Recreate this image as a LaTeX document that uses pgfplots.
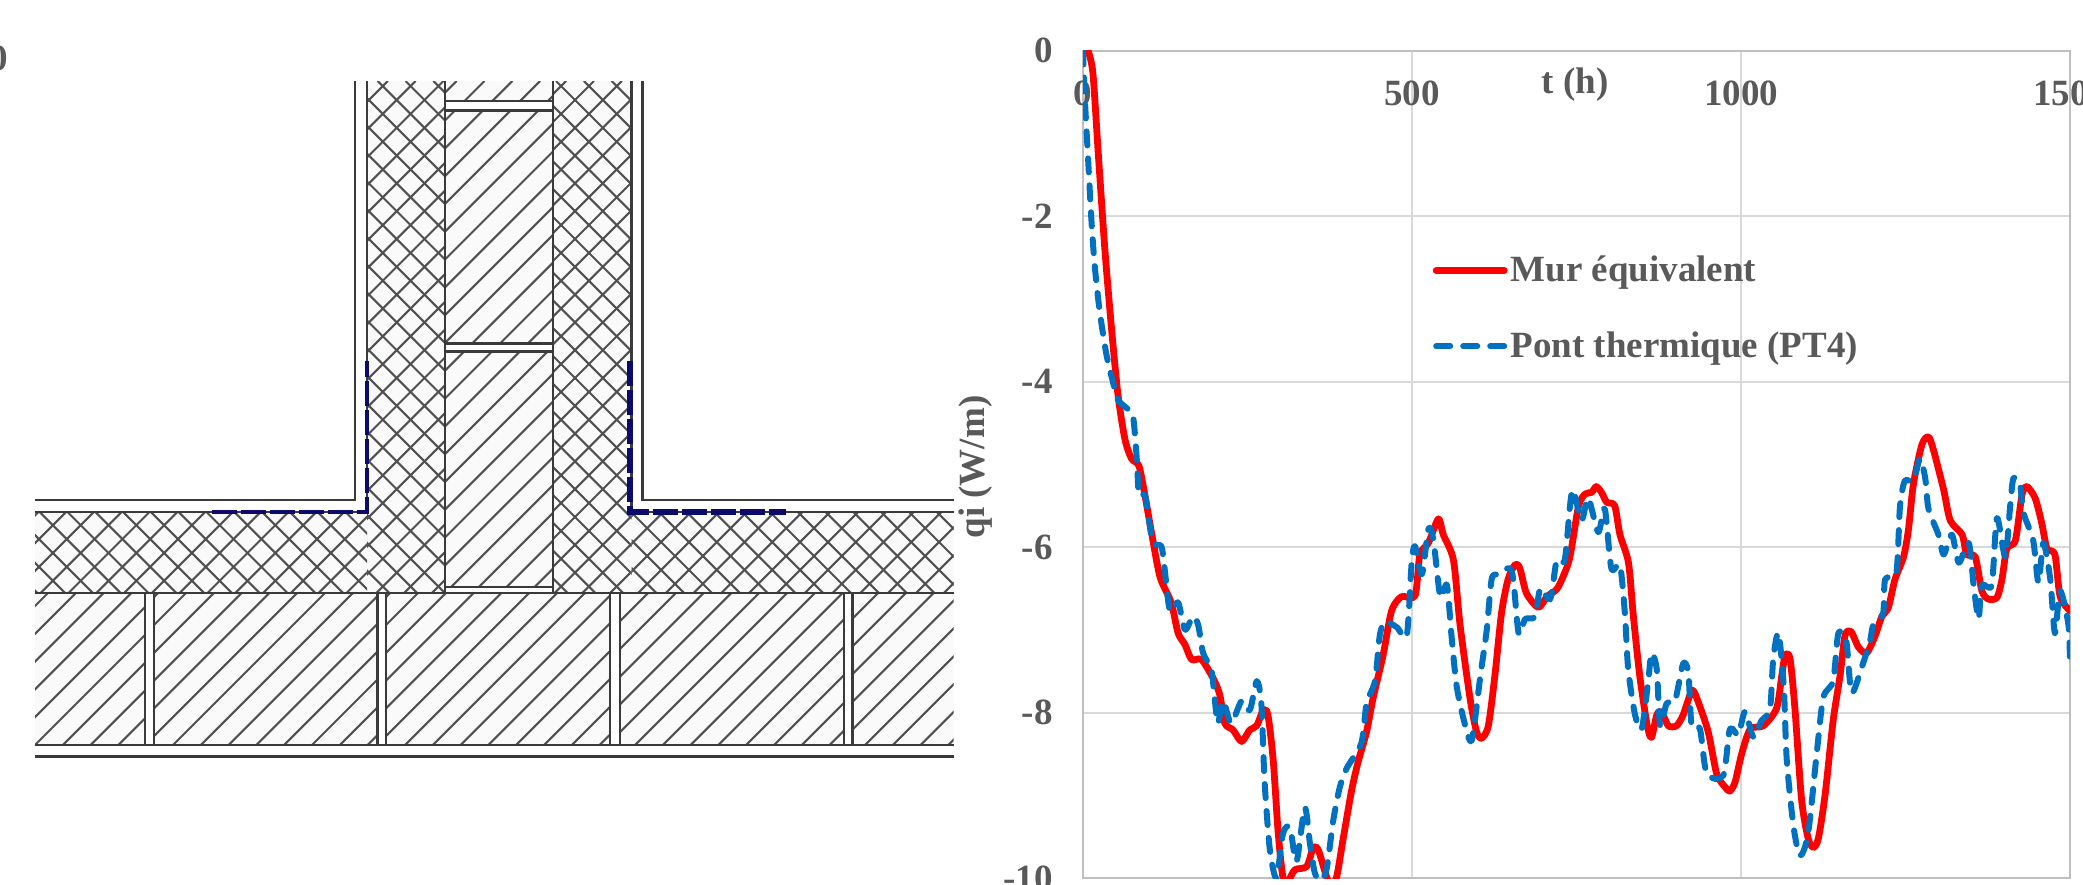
\documentclass[border=0pt]{standalone}
\usepackage{pgfplots}
\pgfplotsset{compat=1.18}
\usepackage{fontspec}
\setmainfont{Liberation Serif}
\definecolor{tickgrey}{HTML}{595959}
\definecolor{gridgrey}{HTML}{D9D9D9}
\definecolor{axisgrey}{HTML}{BFBFBF}
\definecolor{murred}{HTML}{FF0000}
\definecolor{ptblue}{HTML}{0070C0}
\definecolor{navyline}{HTML}{0B0B6B}
\definecolor{ink}{HTML}{3A3A3A}
\definecolor{hatchink}{HTML}{505050}
\definecolor{paper}{HTML}{FAFAFA}
\newcommand\chartfont{\fontsize{18.5}{20}\selectfont\bfseries}
% single hatch: x1,y1,x2,y2,phase
\newcommand\hatchS[5]{%
  \begin{scope}
    \fill[paper] (#1,#2) rectangle (#3,#4);
    \clip (#1,#2) rectangle (#3,#4);
    \foreach \k in {-40,...,40}{%
      \pgfmathsetmacro\s{#5+27.8*\k}%
      \draw[hatchink,line width=1.05pt] ({\s-#4},#4) -- ({\s-#2},#2);
    }
  \end{scope}}
% cross hatch: x1,y1,x2,y2,phase s,phase d
\newcommand\hatchX[6]{%
  \begin{scope}
    \fill[paper] (#1,#2) rectangle (#3,#4);
    \clip (#1,#2) rectangle (#3,#4);
    \foreach \k in {-40,...,40}{%
      \pgfmathsetmacro\s{#5+27.8*\k}%
      \pgfmathsetmacro\d{#6+27.8*\k}%
      \draw[hatchink,line width=1.05pt] ({\s-#4},#4) -- ({\s-#2},#2);
      \draw[hatchink,line width=1.05pt] ({#2-\d},#2) -- ({#4-\d},#4);
    }
  \end{scope}}
\begin{document}
\begin{tikzpicture}
\path[use as bounding box, clip] (0,0) rectangle (1041.5pt,-442pt);
\begin{scope}[x=0.5pt,y=-0.5pt]
  % insulation
  \hatchX{367}{81}{445}{593}{496.7}{-296.7}
  \hatchX{553}{81}{631.7}{593}{675}{-475}
  \hatchX{35}{512}{367}{593}{633.7}{472.3}
  \hatchX{631.7}{512}{953.5}{593}{675}{-119}
  % central block
  \hatchS{445}{81}{553}{593}{676.7}
  \fill[white] (445,101) rectangle (553,110.7);
  \fill[white] (445,343.3) rectangle (553,351.7);
  \fill[white] (445,587) rectangle (553,593);
  % lower layer
  \hatchS{35}{593}{145}{745}{780}
  \hatchS{154}{593}{377.5}{745}{918}
  \hatchS{386}{593}{610}{745}{1150}
  \hatchS{620}{593}{844}{745}{1380}
  \hatchS{852.7}{593}{953.5}{745}{1610}
  \draw[ink,line width=1.25pt]
    (355,81) -- (355,500) -- (35,500)
    (367,81) -- (367,512) -- (35,512)
    (445,81) -- (445,593)
    (553,81) -- (553,593)
    (631.7,81) -- (631.7,512) -- (953.5,512)
    (642.7,81) -- (642.7,500) -- (953.5,500)
    (445,101) -- (553,101) (445,110.7) -- (553,110.7)
    (445,343.3) -- (553,343.3) (445,351.7) -- (553,351.7)
    (445,587) -- (553,587)
    (35,593) -- (953.5,593)
    (35,745) -- (953.5,745)
    (35,756.7) -- (953.5,756.7)
    (145,593) -- (145,745) (154,593) -- (154,745)
    (377.5,593) -- (377.5,745) (386,593) -- (386,745)
    (610,593) -- (610,745) (620,593) -- (620,745)
    (844,593) -- (844,745) (852.7,593) -- (852.7,745);
  \draw[navyline,line width=2.4pt,dash pattern=on 12.5pt off 2pt]
    (212,512) -- (367,512) -- (367,361);
  \draw[navyline,line width=3pt,dash pattern=on 12.5pt off 2pt]
    (630,361) -- (630,512) -- (786,512);
  \node[text=tickgrey,font=\chartfont,anchor=east,inner sep=0pt] at (8,58) {0};
\end{scope}
\begin{axis}[
  at={(541.5pt,-439pt)}, anchor=south west,
  scale only axis, width=493.5pt, height=413.75pt,
  xmin=0, xmax=1500, ymin=-10, ymax=0,
  xtick={0,500,1000,1500}, ytick={0,-2,-4,-6,-8,-10},
  grid=major, major grid style={gridgrey,line width=1pt},
  axis line style={axisgrey,line width=1pt},
  tick style={draw=none},
  xticklabel pos=upper,
  /pgf/number format/assume math mode=true,
  /pgf/number format/1000 sep={},
  xticklabel style={font=\chartfont,text=tickgrey,anchor=center,yshift=-21.5pt,inner sep=0pt},
  yticklabel style={font=\chartfont,text=tickgrey,anchor=east,xshift=-15pt,inner sep=0pt},
  legend style={at={(171.7pt,316pt)},anchor=north west,draw=none,fill=none,
    font=\chartfont,text=tickgrey,row sep=23.5pt,
    nodes={inner sep=0pt}, /tikz/column sep=1.5pt},
  legend cell align=left,
  legend image code/.code={\draw[#1] (0pt,0pt) -- (34pt,0pt);},
  clip=true,
]
\addplot[murred,line width=3.4pt,line cap=round,line join=round,smooth,tension=0.45] coordinates {
(7.6,0)(15,-0.27)(23,-1.22)(33,-2.38)(43,-3.33)(53,-4.15)(63.5,-4.69)(73.5,-4.93)(85,-5.02)
(94,-5.37)(104,-5.82)(117,-6.36)(134,-6.67)(144.5,-7.04)(155,-7.18)(165,-7.36)(180,-7.36)
(198,-7.59)(208,-7.79)(215.5,-8.13)(228,-8.21)(241,-8.35)(253.5,-8.21)(264,-8.16)(274,-7.97)
(281,-8.03)(289,-8.57)(296.7,-9.46)(304,-10)(312,-10.03)(322,-9.9)(340,-9.86)(350,-9.63)
(357.5,-9.66)(368,-9.93)(375,-10.07)(385,-10)(395.5,-9.52)(408,-8.95)(418,-8.6)(431,-8.23)
(441,-7.82)(456,-7.31)(469,-6.77)(484,-6.6)(504.5,-6.59)(512,-6.09)(525,-5.95)(540,-5.66)
(547.5,-5.85)(563,-6.16)(573,-6.94)(588,-7.82)(598,-8.23)(606,-8.31)(616,-8.16)(626,-7.55)
(636,-6.8)(646,-6.39)(657,-6.21)(664,-6.26)(674,-6.56)(692,-6.73)(705,-6.6)(720,-6.51)
(730,-6.35)(740,-6.12)(753,-5.51)(763,-5.36)(773,-5.34)(780,-5.27)(788,-5.34)(796,-5.46)
(808,-5.5)(816,-5.85)(829,-6.19)(836,-6.8)(846,-7.55)(857.5,-8.16)(864,-8.3)(872,-8.03)
(879,-7.99)(889.5,-8.16)(902,-8.16)(912,-8.03)(925,-7.74)(932.5,-7.82)(950,-8.23)(963,-8.74)
(975.7,-8.9)(983,-8.95)(991,-8.84)(1001,-8.5)(1014,-8.2)(1034,-8.16)(1054,-7.95)(1062,-7.55)
(1067,-7.31)(1074.5,-7.35)(1082,-7.96)(1092,-9.05)(1102,-9.52)(1110,-9.63)(1117.6,-9.52)
(1128,-8.98)(1140,-8.1)(1150.6,-7.55)(1158,-7.07)(1167,-7.02)(1178.5,-7.21)(1191,-7.28)
(1204,-7.07)(1214,-6.84)(1224,-6.73)(1234,-6.39)(1247,-6.12)(1254.6,-5.78)(1262,-5.24)
(1275,-4.76)(1285,-4.67)(1292.6,-4.83)(1308,-5.31)(1318,-5.68)(1336,-5.85)(1343,-6.09)
(1356,-6.12)(1366,-6.53)(1376,-6.63)(1389,-6.61)(1396.6,-6.39)(1404,-6.02)(1417,-5.92)
(1427,-5.37)(1434.6,-5.27)(1447,-5.41)(1457,-5.71)(1465,-6.02)(1477,-6.09)(1485,-6.6)(1500,-6.77)
};
\addlegendentry{Mur équivalent}
\addplot[ptblue,line width=3pt,line cap=round,line join=round,dash pattern=on 7pt off 6.5pt,smooth,tension=0.45] coordinates {
(0,0)(2.5,-0.54)(7.6,-1.29)(12.7,-2.04)(17.7,-2.59)(25,-3.13)(35.5,-3.67)(45.6,-4.01)(53,-4.22)
(66,-4.32)(76,-4.42)(82,-4.97)(85,-5.37)(94,-5.37)(99,-5.61)(106.5,-5.95)(119,-5.99)(124,-6.26)
(132,-6.77)(144.5,-6.67)(155,-7.0)(167,-6.84)(175,-6.94)(182.5,-7.28)(195,-7.48)(200,-7.82)
(205,-8.13)(213,-7.86)(225,-8.13)(241,-7.86)(253.5,-7.97)(264,-7.62)(271,-7.89)(276,-8.84)
(284,-9.66)(294,-10)(304,-9.46)(314.5,-9.39)(324.5,-9.8)(337,-9.15)(345,-9.59)(352,-9.93)
(360,-10.03)(370,-9.9)(380,-9.32)(390,-8.91)(401,-8.67)(423,-8.37)(431,-7.89)(443.7,-7.62)
(451,-7.07)(459,-6.9)(477,-6.97)(492,-7.07)(499.5,-6.19)(504.5,-5.99)(515,-6.33)(525,-5.78)
(532.6,-5.92)(543,-6.6)(553,-6.46)(560,-7.07)(568,-7.69)(581,-8.16)(591,-8.33)(604,-7.55)
(613.6,-7.0)(621,-6.39)(631,-6.33)(651.5,-6.29)(662,-7.04)(672,-6.87)(687,-6.84)(695,-6.5)
(710,-6.63)(720,-6.16)(732,-6.16)(740,-5.51)(745,-5.31)(757.6,-5.68)(767.8,-5.41)(783,-5.82)
(793,-5.54)(803,-6.26)(816,-6.22)(823.5,-6.8)(828.6,-7.48)(839,-8.03)(849,-8.2)(859,-7.62)
(864,-7.28)(872,-7.48)(877,-8.16)(887,-7.89)(899.6,-7.86)(912,-7.41)(920,-7.52)(925,-8.16)
(937.6,-8.2)(948,-8.74)(973,-8.76)(983,-8.2)(996,-8.27)(1006,-7.99)(1019,-8.3)(1031,-8.1)
(1044,-7.96)(1049,-7.35)(1057,-7.04)(1065,-7.69)(1069.5,-8.57)(1080,-9.39)(1090,-9.73)
(1102,-9.46)(1115,-8.5)(1125,-7.82)(1140,-7.62)(1148,-7.04)(1160,-7.14)(1168,-7.76)
(1183.6,-7.45)(1196,-7.14)(1201,-6.94)(1216,-6.8)(1219,-6.39)(1236,-6.31)(1241.6,-5.51)
(1249,-5.2)(1262,-5.2)(1272,-4.93)(1280,-5.17)(1285,-5.54)(1300,-5.85)(1308,-6.09)
(1320.5,-5.85)(1331,-6.19)(1346,-5.95)(1353.5,-6.46)(1361,-6.87)(1366,-6.46)(1381,-6.46)
(1389,-5.65)(1401.6,-6.12)(1409,-5.51)(1414,-5.17)(1424,-5.24)(1429,-5.58)(1444,-5.92)
(1452,-6.43)(1459.6,-5.95)(1470,-6.39)(1477,-7.04)(1485,-6.53)(1497.6,-6.94)(1500,-7.41)
};
\addlegendentry{Pont thermique (PT4)}
\end{axis}
\node[text=tickgrey,font=\chartfont,inner sep=0pt] at (787.5pt,-42.2pt) {t (h)};
\node[text=tickgrey,font=\chartfont,rotate=90,inner sep=0pt] at (488pt,-233.5pt) {qi (W/m)};
\end{tikzpicture}
\end{document}
